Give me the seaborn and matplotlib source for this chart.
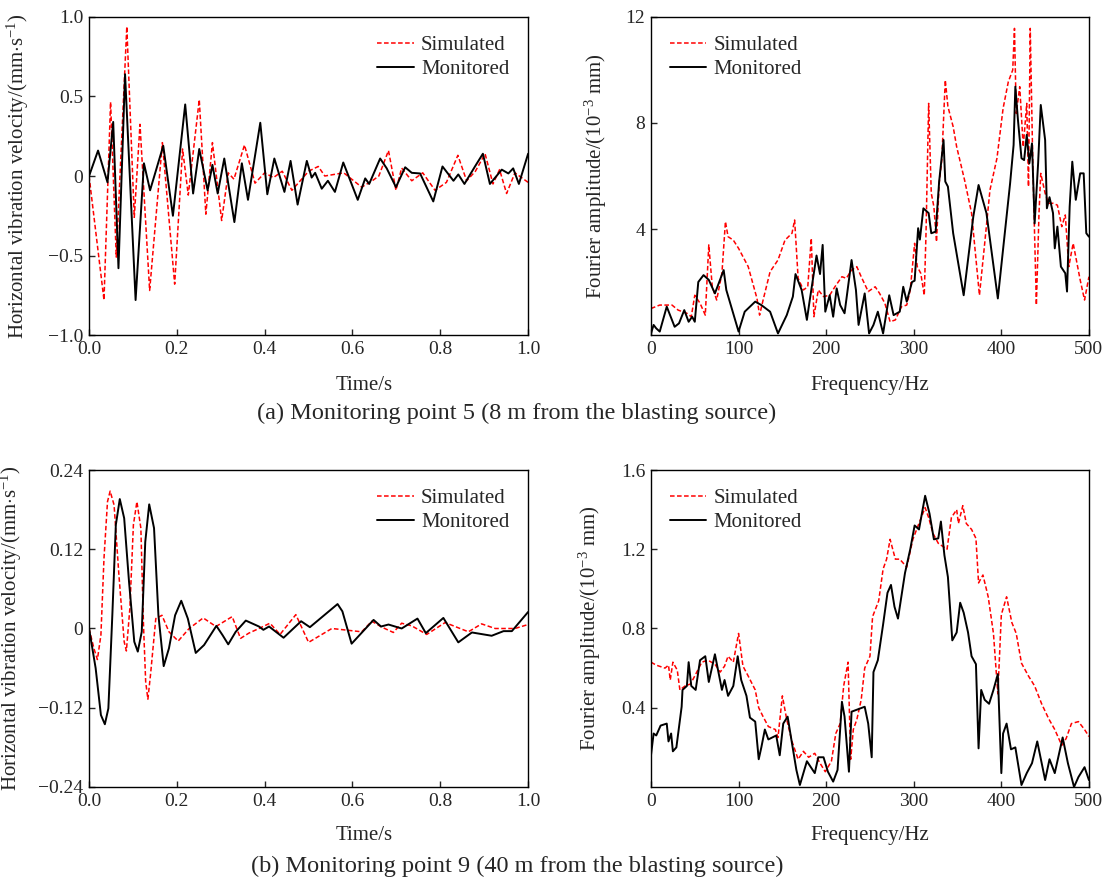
import numpy as np
import pandas as pd
import matplotlib
matplotlib.use("Agg")
import matplotlib.pyplot as plt
import seaborn as sns

# ---- (a) monitoring point 5 : time history ----
t_a_sim = [0, 0.034, 0.049, 0.062, 0.086, 0.103, 0.116, 0.138, 0.167, 0.195, 0.213, 0.226, 0.251, 0.266,
           0.281, 0.302, 0.317, 0.33, 0.354, 0.378, 0.40, 0.42, 0.44, 0.462, 0.50, 0.522, 0.537, 0.58,
           0.621, 0.645, 0.66, 0.682, 0.699, 0.712, 0.735, 0.76, 0.788, 0.814, 0.840, 0.86, 0.88, 0.902,
           0.92, 0.935, 0.951, 0.97, 1.0]
v_a_sim = [0, -0.78, 0.465, -0.51, 0.94, -0.26, 0.325, -0.72, 0.21, -0.68, 0.17, -0.12, 0.48, -0.24,
           0.21, -0.28, 0.02, -0.02, 0.195, -0.045, 0.02, -0.01, 0.03, -0.09, 0.03, 0.06, 0.0, 0.02,
           -0.07, -0.03, 0.0, 0.16, -0.09, 0.05, -0.03, 0.02, -0.09, -0.04, 0.13, -0.03, 0.03, 0.14,
           -0.05, 0.04, -0.11, 0.02, -0.04]
t_a_mon = [0, 0.0205, 0.042, 0.055, 0.067, 0.082, 0.106, 0.125, 0.139, 0.169, 0.191, 0.219, 0.237, 0.251,
           0.270, 0.281, 0.293, 0.308, 0.331, 0.348, 0.362, 0.390, 0.406, 0.422, 0.445, 0.459, 0.475,
           0.496, 0.507, 0.515, 0.530, 0.544, 0.560, 0.579, 0.612, 0.629, 0.638, 0.663, 0.678, 0.699,
           0.720, 0.735, 0.754, 0.784, 0.805, 0.830, 0.841, 0.855, 0.879, 0.897, 0.913, 0.940, 0.955,
           0.966, 0.979, 1.0]
v_a_mon = [0, 0.16, -0.04, 0.34, -0.58, 0.64, -0.78, 0.08, -0.09, 0.19, -0.25, 0.45, -0.11, 0.17,
           -0.09, 0.07, -0.11, 0.11, -0.29, 0.08, -0.15, 0.335, -0.115, 0.11, -0.10, 0.095, -0.18,
           0.095, -0.01, 0.02, -0.08, -0.03, -0.10, 0.085, -0.15, -0.015, -0.05, 0.11, 0.048, -0.07,
           0.055, 0.02, 0.016, -0.16, 0.06, -0.03, 0.01, -0.05, 0.06, 0.14, -0.05, 0.04, 0.016,
           0.048, -0.05, 0.14]

# ---- (a) Fourier spectrum ----
f_a_sim = [0, 10, 18, 24, 31, 41, 46, 50, 56, 62, 66, 70, 75, 81, 85, 88, 94, 100, 111, 121, 124, 128,
           136, 145, 153, 161, 164, 168, 174, 179, 183, 186, 191, 197, 204, 210, 218, 223, 229, 235,
           240, 248, 256, 261, 267, 273, 279, 286, 292, 296, 301, 304, 308, 312, 314, 317, 320, 323,
           326, 329, 332, 336, 339, 345, 349, 358, 366, 375, 381, 387, 395, 402, 408, 413, 415, 417,
           421, 425, 429, 431, 433, 436, 440, 443, 445, 450, 454, 459, 464, 469, 473, 477, 482, 490,
           495, 500]
A_a_sim = [1.0, 1.13, 1.13, 1.13, 0.94, 0.82, 0.69, 1.5, 1.2, 0.75, 3.4, 1.82, 1.32, 2.33, 4.28, 3.71,
           3.58, 3.27, 2.58, 1.38, 0.75, 1.32, 2.39, 2.83, 3.58, 3.84, 4.34, 2.14, 1.7, 1.82, 3.65, 0.69,
           1.7, 1.45, 1.5, 1.82, 2.2, 2.14, 2.45, 2.58, 2.2, 1.64, 1.82, 1.57, 1.2, 0.5, 0.57, 1.07,
           1.13, 1.7, 3.46, 2.58, 2.33, 1.5, 3.84, 8.74, 5.35, 4.84, 3.52, 5.72, 6.6, 9.62, 8.62, 7.86,
           7.1, 5.85, 4.6, 1.5, 3.46, 5.47, 6.67, 8.55, 9.56, 10.0, 11.57, 8.36, 9.37, 7.1, 8.74, 5.6,
           11.57, 6.35, 1.13, 4.6, 6.1, 5.35, 4.97, 4.97, 4.9, 4.09, 4.53, 2.58, 3.46, 2.08, 1.32, 2.2]
f_a_mon = [0, 3, 6, 10, 18, 27, 32, 38, 43, 47, 50, 54, 60, 66, 73, 83, 86, 100, 107, 119, 126, 136,
           145, 155, 162, 165, 172, 178, 181, 189, 193, 196, 199, 204, 208, 212, 216, 221, 229, 234,
           237, 244, 249, 254, 259, 265, 272, 277, 284, 288, 292, 298, 301, 305, 307, 311, 317, 320,
           325, 329, 334, 336, 339, 345, 357, 368, 374, 383, 396, 410, 414, 416, 419, 423, 426, 429,
           432, 435, 438, 442, 445, 450, 452, 455, 459, 461, 464, 468, 473, 475, 478, 481, 485, 490,
           494, 497, 500]
A_a_mon = [0.06, 0.38, 0.25, 0.13, 1.07, 0.31, 0.44, 0.94, 0.5, 0.69, 0.5, 2.0, 2.26, 2.08, 1.57, 2.45,
           1.7, 0.13, 0.88, 1.26, 1.13, 0.88, 0.06, 0.75, 1.45, 2.3, 1.7, 0.57, 1.26, 3.0, 2.3, 3.4,
           0.88, 1.5, 0.69, 1.76, 1.13, 0.82, 2.83, 1.7, 0.38, 1.57, 0.06, 0.38, 0.88, 0.06, 1.5, 0.75,
           0.88, 1.82, 1.26, 2.0, 2.05, 4.03, 3.6, 4.78, 4.6, 3.84, 3.9, 5.79, 7.36, 5.79, 5.6, 3.84,
           1.5, 4.47, 5.66, 4.6, 1.38, 5.72, 7.17, 9.37, 8.1, 6.67, 6.6, 7.55, 6.48, 7.23, 4.21, 6.48,
           8.68, 7.36, 4.78, 5.2, 4.6, 3.27, 4.09, 2.58, 2.33, 1.64, 4.84, 6.54, 5.1, 6.1, 6.1, 3.84,
           3.71]

# ---- (b) monitoring point 9 : time history ----
t_b_sim = [0, 0.011, 0.019, 0.027, 0.034, 0.042, 0.048, 0.057, 0.068, 0.080, 0.085, 0.093, 0.101,
           0.109, 0.118, 0.124, 0.129, 0.134, 0.140, 0.152, 0.166, 0.182, 0.203, 0.228, 0.260, 0.289,
           0.326, 0.345, 0.364, 0.387, 0.412, 0.435, 0.471, 0.500, 0.553, 0.621, 0.644, 0.667, 0.693,
           0.712, 0.735, 0.769, 0.811, 0.864, 0.894, 0.925, 0.970, 1.0]
v_b_sim = [0, -0.030, -0.047, -0.010, 0.106, 0.192, 0.208, 0.187, 0.081, -0.020, -0.034, 0.031, 0.157,
           0.192, 0.152, 0.005, -0.081, -0.107, -0.070, 0.015, 0.020, -0.005, -0.019, 0.0, 0.016, 0.003,
           0.018, -0.015, -0.007, 0.0, 0.008, -0.009, 0.021, -0.021, 0.0, -0.005, 0.011, 0.002, -0.006,
           0.008, 0.004, -0.009, 0.009, -0.005, 0.007, 0.0, 0.0, 0.006]
t_b_mon = [0, 0.015, 0.027, 0.036, 0.044, 0.053, 0.061, 0.070, 0.080, 0.091, 0.103, 0.111, 0.120,
           0.128, 0.137, 0.148, 0.158, 0.170, 0.182, 0.196, 0.210, 0.225, 0.243, 0.262, 0.290, 0.304,
           0.317, 0.334, 0.357, 0.387, 0.397, 0.410, 0.443, 0.483, 0.503, 0.566, 0.577, 0.598, 0.648,
           0.665, 0.682, 0.712, 0.748, 0.767, 0.807, 0.841, 0.872, 0.917, 0.944, 0.963, 1.0]
v_b_mon = [0, -0.060, -0.131, -0.145, -0.121, 0.020, 0.157, 0.196, 0.167, 0.071, -0.020, -0.035, -0.005,
           0.131, 0.188, 0.152, 0.020, -0.057, -0.030, 0.020, 0.042, 0.015, -0.037, -0.025, 0.004,
           -0.010, -0.024, -0.005, 0.012, 0.003, -0.002, 0.003, -0.014, 0.011, 0.002, 0.037, 0.026,
           -0.023, 0.013, 0.003, 0.006, 0.0, 0.015, -0.007, 0.016, -0.021, -0.006, -0.011, -0.004,
           -0.004, 0.025]

# ---- (b) Fourier spectrum ----
f_b_sim = [0, 6, 16, 20, 22, 25, 30, 33, 39, 45, 50, 58, 65, 73, 79, 84, 88, 94, 100, 105, 111, 119,
           123, 128, 134, 142, 145, 150, 155, 161, 168, 174, 180, 187, 193, 199, 206, 211, 216, 220,
           225, 228, 231, 235, 240, 244, 250, 253, 260, 265, 269, 273, 279, 284, 292, 299, 305, 313,
           317, 322, 328, 338, 343, 349, 351, 356, 360, 366, 371, 374, 379, 385, 391, 396, 400, 406,
           412, 417, 423, 431, 438, 446, 454, 461, 469, 474, 480, 488, 495, 500]
A_b_sim = [0.63, 0.615, 0.6, 0.615, 0.54, 0.63, 0.59, 0.49, 0.51, 0.52, 0.56, 0.63, 0.64, 0.62, 0.58,
           0.61, 0.66, 0.63, 0.775, 0.61, 0.56, 0.49, 0.4, 0.355, 0.305, 0.29, 0.25, 0.46, 0.34, 0.23,
           0.14, 0.18, 0.15, 0.17, 0.12, 0.077, 0.13, 0.27, 0.32, 0.51, 0.63, 0.14, 0.29, 0.34, 0.44,
           0.6, 0.66, 0.86, 0.94, 1.1, 1.15, 1.25, 1.15, 1.15, 1.11, 1.25, 1.32, 1.41, 1.36, 1.28,
           1.23, 1.2, 1.36, 1.4, 1.33, 1.42, 1.33, 1.3, 1.255, 1.03, 1.07, 0.96, 0.775, 0.47, 0.87,
           0.96, 0.83, 0.775, 0.625, 0.56, 0.51, 0.42, 0.345, 0.29, 0.21, 0.245, 0.32, 0.33, 0.29, 0.255]
f_b_mon = [0, 3, 6, 11, 18, 20, 23, 25, 29, 35, 36, 41, 43, 46, 51, 56, 62, 66, 73, 81, 84, 88, 94, 99,
           103, 109, 113, 119, 123, 126, 130, 134, 143, 147, 151, 156, 161, 166, 170, 178, 187, 191,
           197, 202, 208, 213, 218, 221, 226, 229, 235, 244, 248, 252, 254, 259, 265, 270, 274, 278,
           282, 290, 296, 301, 306, 313, 318, 323, 328, 331, 335, 339, 344, 349, 353, 357, 362, 366,
           371, 374, 377, 381, 386, 391, 396, 400, 402, 406, 411, 416, 423, 429, 435, 441, 450, 455,
           461, 470, 476, 483, 488, 495, 500]
A_b_mon = [0.16, 0.27, 0.26, 0.31, 0.32, 0.23, 0.27, 0.18, 0.2, 0.405, 0.49, 0.51, 0.63, 0.51, 0.49,
           0.64, 0.66, 0.53, 0.67, 0.49, 0.54, 0.46, 0.51, 0.66, 0.54, 0.46, 0.35, 0.33, 0.14, 0.2,
           0.29, 0.24, 0.26, 0.16, 0.32, 0.355, 0.22, 0.086, 0.01, 0.13, 0.07, 0.15, 0.15, 0.077,
           0.027, 0.086, 0.43, 0.355, 0.077, 0.38, 0.39, 0.405, 0.32, 0.15, 0.58, 0.64, 0.82, 0.98,
           1.02, 0.91, 0.85, 1.08, 1.2, 1.32, 1.3, 1.47, 1.38, 1.25, 1.255, 1.34, 1.17, 1.06, 0.74,
           0.78, 0.93, 0.88, 0.78, 0.66, 0.62, 0.195, 0.49, 0.44, 0.42, 0.49, 0.57, 0.07, 0.27, 0.32,
           0.19, 0.2, 0.01, 0.07, 0.12, 0.23, 0.035, 0.14, 0.07, 0.25, 0.12, 0.0, 0.05, 0.1, 0.035]

# ---- axis ticks / labels ----
time_ticks = [0, 0.2, 0.4, 0.6, 0.8, 1.0]
time_labels = ["0.0", "0.2", "0.4", "0.6", "0.8", "1.0"]
freq_ticks = [0, 100, 200, 300, 400, 500]
freq_labels = ["0", "100", "200", "300", "400", "500"]
vel_a_ticks = [-1.0, -0.5, 0, 0.5, 1.0]
vel_a_labels = ["\u22121.0", "\u22120.5", "0", "0.5", "1.0"]
vel_b_ticks = [-0.24, -0.12, 0, 0.12, 0.24]
vel_b_labels = ["\u22120.24", "\u22120.12", "0", "0.12", "0.24"]
amp_a_ticks = [4, 8, 12]
amp_a_labels = ["4", "8", "12"]
amp_b_ticks = [0.4, 0.8, 1.2, 1.6]
amp_b_labels = ["0.4", "0.8", "1.2", "1.6"]

sns.set_style("white")
plt.rcParams["font.family"] = ["Liberation Serif", "DejaVu Serif"]
plt.rcParams["mathtext.fontset"] = "custom"
plt.rcParams["mathtext.rm"] = "Liberation Serif"
plt.rcParams["mathtext.it"] = "Liberation Serif:italic"

FS = 14
LABFS = 15
RED = "#ff0000"


def draw(ax, xs, ys, xm, ym, xlim, ylim, xt, xl, yt, yl, xlabel, ylabel, leg_loc,
         ylab_x, xlab_xy):
    sim = pd.DataFrame({"x": xs, "y": ys})
    mon = pd.DataFrame({"x": xm, "y": ym})
    sns.lineplot(data=sim, x="x", y="y", ax=ax, color=RED, lw=1.1, estimator=None,
                 linestyle=(0, (3, 1.6)), label="Simulated")
    sns.lineplot(data=mon, x="x", y="y", ax=ax, color="black", lw=1.4, estimator=None,
                 label="Monitored")
    ax.set_xlim(*xlim)
    ax.set_ylim(*ylim)
    ax.set_xticks(xt)
    ax.set_xticklabels(xl, fontsize=FS)
    ax.set_yticks(yt)
    ax.set_yticklabels(yl, fontsize=FS)
    ax.tick_params(direction="in", length=4, width=1, pad=4, left=True, bottom=True)
    for s in ax.spines.values():
        s.set_linewidth(1.0)
        s.set_color("black")
    ax.set_xlabel(xlabel, fontsize=LABFS)
    ax.set_ylabel(ylabel, fontsize=LABFS)
    ax.xaxis.set_label_coords(*xlab_xy)
    ax.yaxis.set_label_coords(ylab_x, 0.5)
    ax.legend(loc=leg_loc, frameon=False, fontsize=15, handlelength=1.75,
              handletextpad=0.35, labelspacing=0.2, borderaxespad=0.5)


fig = plt.figure(figsize=(11.09, 8.80), dpi=100)
ax1 = fig.add_axes([0.0803, 0.6193, 0.3959, 0.3614])
ax2 = fig.add_axes([0.5870, 0.6193, 0.3949, 0.3614])
ax3 = fig.add_axes([0.0803, 0.1057, 0.3959, 0.3602])
ax4 = fig.add_axes([0.5870, 0.1057, 0.3949, 0.3602])

vel_lab = r"Horizontal vibration velocity/(mm$\cdot$s$^{\mathrm{-1}}$)"
amp_lab = r"Fourier amplitude/(10$^{\mathrm{-3}}$ mm)"

draw(ax1, t_a_sim, v_a_sim, t_a_mon, v_a_mon, (0, 1), (-1, 1), time_ticks, time_labels,
     vel_a_ticks, vel_a_labels, "Time/s", vel_lab, "upper right", -0.132, (0.626, -0.128))
draw(ax2, f_a_sim, A_a_sim, f_a_mon, A_a_mon, (0, 500), (0, 12), freq_ticks, freq_labels,
     amp_a_ticks, amp_a_labels, "Frequency/Hz", amp_lab, "upper left", -0.096, (0.5, -0.128))
draw(ax3, t_b_sim, v_b_sim, t_b_mon, v_b_mon, (0, 1), (-0.24, 0.24), time_ticks, time_labels,
     vel_b_ticks, vel_b_labels, "Time/s", vel_lab, "upper right", -0.148, (0.626, -0.122))
draw(ax4, f_b_sim, A_b_sim, f_b_mon, A_b_mon, (0, 500), (0, 1.6), freq_ticks, freq_labels,
     amp_b_ticks, amp_b_labels, "Frequency/Hz", amp_lab, "upper left", -0.11, (0.5, -0.122))

fig.text(517 / 1109, 1 - 413 / 880, "(a) Monitoring point 5 (8 m from the blasting source)",
         ha="center", va="center", fontsize=17.5)
fig.text(517 / 1109, 1 - 866 / 880, "(b) Monitoring point 9 (40 m from the blasting source)",
         ha="center", va="center", fontsize=17.5)

fig.savefig("out.png", dpi=100)
